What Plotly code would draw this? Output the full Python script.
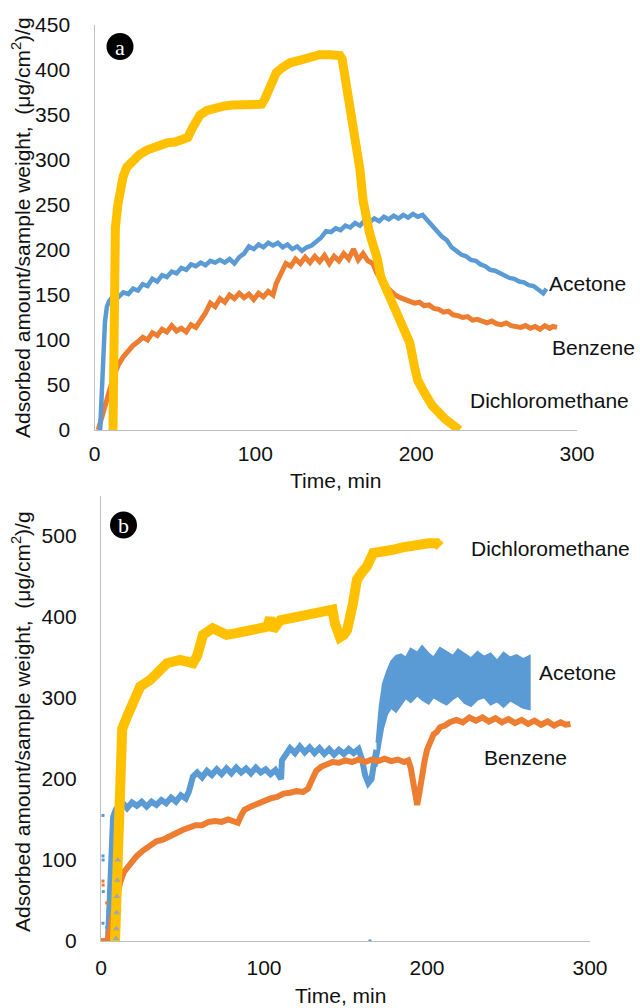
import plotly.graph_objects as go

W, H = 640, 1008

# ---------------- Panel a data ----------------
dcm_a_t = [11.5, 11.6, 11.8, 12.2, 13, 14.5, 16, 17.7, 20, 24, 28, 32.6, 38, 45, 50, 56, 58, 61, 65.6, 70, 76, 81, 86, 95, 104, 106, 109, 113, 117, 121.6, 128, 136, 140, 146, 152.6, 154, 157, 160, 163, 165, 167, 171, 176, 178, 183, 187, 193, 196, 199, 201, 205, 210, 218, 227]
dcm_a_v = [0, 60, 130, 190, 225, 250, 268, 281, 292, 300, 306, 311, 315, 319, 320, 322, 325, 336, 350, 355, 359, 360, 361, 362, 362, 368, 380, 397, 403, 408, 411, 415, 417, 417, 416, 412, 380, 345, 319, 290, 255, 219, 189, 170, 150, 135, 110, 97, 70, 55, 42, 27, 12, 0]

ace_a_t = [3.5, 4.5, 5.5, 6.5, 7.7, 9, 10.5, 12, 15, 18, 21, 24, 27, 30, 33, 36, 39, 42, 45, 48, 51, 54, 57, 60, 63, 66, 69, 72, 75, 78, 81, 84, 87, 90, 93, 96, 99, 102, 105, 108, 111, 114, 117, 120, 123, 126, 129, 132, 135, 138, 141, 144, 147, 150, 153, 156, 159, 162, 165, 168, 171, 174, 177, 180, 183, 186, 189, 192, 195, 198, 201, 204, 207, 210, 213, 216, 219, 222, 225, 228, 231, 234, 237, 240, 243, 246, 249, 252, 255, 258, 261, 264, 267, 270, 273, 276, 279, 281]
ace_a_v = [0, 30, 80, 120, 137, 143, 147, 150, 148, 153, 151, 157, 155, 162, 160, 168, 165, 172, 170, 176, 174, 180, 178, 184, 182, 186, 183, 188, 186, 189, 186, 190, 185, 192, 196, 204, 201, 206, 203, 208, 205, 208, 203, 206, 201, 204, 199, 203, 205, 210, 214, 221, 220, 224, 222, 227, 225, 230, 227, 233, 231, 235, 232, 237, 234, 238, 235, 239, 236, 240, 237, 239, 233, 227, 222, 215, 211, 203, 199, 195, 193, 189, 188, 184, 182, 178, 177, 174, 172, 169, 168, 165, 164, 161, 160, 156, 152, 157]

ben_a_t = [2.3, 5, 7.6, 10, 12.7, 15, 17.8, 21, 24, 27, 30, 33, 36, 39, 42, 45, 48, 51, 54, 57, 60, 63, 66, 69, 72, 75, 78, 81, 84, 87, 90, 93, 96, 99, 102, 105, 108, 111, 113, 116, 119, 122, 125, 128, 131, 134, 137, 140, 143, 146, 149, 152, 155, 158, 161, 164, 167, 170, 173, 175.6, 178, 181, 184, 187, 190, 193, 196, 199, 202, 205, 208, 211, 214, 217, 220, 223, 226, 229, 232, 235, 238, 241, 244, 247, 250, 253, 256, 259, 262, 265, 268, 271, 274, 277, 280, 283, 285, 287.6]
ben_a_v = [0, 18, 33, 48, 63, 73, 81, 88, 94, 98, 103, 100, 108, 105, 112, 109, 116, 110, 113, 109, 117, 114, 122, 130, 141, 137, 146, 142, 150, 146, 152, 147, 151, 145, 152, 148, 154, 150, 163, 175, 185, 182, 190, 185, 192, 186, 193, 187, 194, 185, 193, 188, 196, 190, 201, 189, 196, 188, 185, 174, 168, 160, 155, 150, 147, 145, 144, 141, 142, 138, 139, 135, 134, 131, 132, 128, 127, 125, 126, 122, 123, 121, 119, 121, 118, 117, 119, 116, 115, 114, 116, 113, 115, 112, 116, 113, 115, 114]

# ---------------- Panel b data ----------------
dcm_b_t = [8.6, 9.5, 10.5, 11.7, 13, 16, 20, 24, 30, 35, 40.5, 48.5, 56.4, 59, 62.6, 68.5, 73, 77, 83, 89.5, 96, 102, 103.7, 105.5, 110, 115, 120, 125, 130, 136, 142, 143.5, 146.6, 149, 151, 154.6, 157, 160, 163, 167, 172, 179, 185, 191, 196, 201, 206, 208]
dcm_b_v = [0, 80, 170, 240, 262, 277, 298, 314, 322, 333, 343, 347, 343, 352, 378, 386, 381, 378, 380, 382, 384, 388, 399, 384, 396, 398, 400, 402, 405, 406, 409, 392, 375, 378, 384, 417, 446, 455, 462, 479, 480, 483, 486, 489, 490, 491, 491, 487]

ace_b_t = [4.3, 5.5, 6.5, 7.4, 9, 11, 13.5, 16, 19, 22, 25, 28, 31, 34, 37, 40, 43, 46, 49, 52, 54, 55.5, 56.4, 59, 62, 65, 68, 71, 74, 77, 80, 83, 86, 89, 92, 95, 98, 101, 104, 107, 109.5, 110.5, 111, 113, 116, 119, 122, 125, 128, 131, 134, 137, 140, 143, 146, 149, 152, 155, 158, 160, 162, 164, 166, 167.5, 169]
ace_b_v = [0, 63, 110, 153, 162, 168, 170, 164, 171, 167, 172, 166, 172, 168, 174, 170, 177, 172, 180, 176, 185, 196, 203, 208, 202, 210, 205, 212, 206, 213, 207, 214, 208, 213, 207, 214, 208, 212, 206, 211, 204, 200, 223, 228, 238, 232, 240, 233, 239, 232, 238, 231, 237, 230, 236, 231, 237, 232, 237, 225, 205, 195, 200, 220, 236]

ace_b_band_t = [169, 171, 173, 175.5, 178, 181, 184, 187, 190, 194, 197, 201, 204, 208, 212, 216, 219, 223, 227, 231, 235, 239, 243, 247, 251, 255, 259, 263]
ace_b_band_hi = [245, 290, 318, 333, 345, 352, 354, 350, 361, 356, 364, 355, 350, 362, 357, 352, 360, 354, 349, 357, 351, 355, 346, 356, 350, 353, 348, 352]
ace_b_band_lo = [215, 240, 262, 280, 288, 283, 292, 300, 295, 303, 298, 293, 301, 296, 292, 299, 303, 294, 290, 298, 301, 292, 296, 289, 297, 293, 288, 286]

ben_b_t = [0, 2, 4, 5.5, 7.4, 9.5, 11.7, 14, 17.8, 22, 26, 30, 34, 38, 42, 46, 50, 54, 58, 62, 66, 70, 74, 78, 82, 84, 86, 88, 92, 96, 100, 104, 108, 112, 116, 120, 124, 127, 129, 132, 135, 138, 142, 146, 150, 154, 158, 162, 166, 170, 174, 178, 182, 186, 188.5, 190, 191.4, 193, 194, 195.5, 197, 198.5, 200, 202, 204, 206, 208, 211, 214, 218, 222, 226, 230, 234, 238, 242, 246, 250, 254, 258, 262, 266, 270, 274, 278, 282, 285, 288]
ben_b_v = [0, 0, 0, 15, 35, 55, 72, 85, 96, 105, 112, 117, 123, 125, 130, 133, 137, 140, 143, 143, 147, 148, 147, 150, 148, 146, 155, 162, 166, 170, 172, 176, 178, 182, 183, 185, 184, 188, 197, 210, 215, 218, 221, 220, 223, 221, 224, 221, 224, 222, 225, 222, 224, 221, 223, 214, 199, 178, 168, 185, 211, 222, 236, 245, 255, 258, 264, 266, 270, 273, 270, 276, 272, 276, 271, 275, 270, 274, 269, 273, 268, 272, 267, 271, 266, 270, 267, 268]

stray_ace_t = [1.2, 1.2, 1.3, 1.4, 1.2, 3.5, 165]
stray_ace_v = [155, 105, 100, 61, 22, 17, 0]
stray_ben_t = [1.2, 1.3, 3.5]
stray_ben_v = [74, 69, 47]
dcm_b_tri_t = [9.2, 9.4, 9.6, 9.8, 10.0, 10.3]
dcm_b_tri_v = [3, 15, 35, 55, 75, 100]

x_ticks = [0, 100, 200, 300]
ya_ticks = [0, 50, 100, 150, 200, 250, 300, 350, 400, 450]
yb_ticks = [0, 100, 200, 300, 400, 500]

YELLOW = "#FFC000"
BLUE = "#5B9BD5"
ORANGE = "#ED7D31"
FONT = "Liberation Sans, Arial, sans-serif"
TXT = "#111111"

fig = go.Figure()

def line(x, y, color, width, xa, ya):
    fig.add_trace(go.Scatter(x=x, y=y, mode="lines", line=dict(color=color, width=width),
                             xaxis=xa, yaxis=ya, showlegend=False, hoverinfo="skip"))

# panel a
line(ben_a_t, ben_a_v, ORANGE, 5, "x", "y")
line(ace_a_t, ace_a_v, BLUE, 4.5, "x", "y")
line(dcm_a_t, dcm_a_v, YELLOW, 9, "x", "y")

# panel b
fig.add_trace(go.Scatter(x=ace_b_band_t + ace_b_band_t[::-1], y=ace_b_band_hi + ace_b_band_lo[::-1],
                         mode="lines", fill="toself", fillcolor=BLUE, line=dict(color=BLUE, width=2),
                         xaxis="x2", yaxis="y2", showlegend=False, hoverinfo="skip"))
line(ace_b_t, ace_b_v, BLUE, 6, "x2", "y2")
line(ben_b_t, ben_b_v, ORANGE, 6, "x2", "y2")
line(dcm_b_t, dcm_b_v, YELLOW, 10, "x2", "y2")
fig.add_trace(go.Scatter(x=stray_ace_t, y=stray_ace_v, mode="markers", marker=dict(color=BLUE, size=3, symbol="square"),
                         xaxis="x2", yaxis="y2", showlegend=False, hoverinfo="skip"))
fig.add_trace(go.Scatter(x=stray_ben_t, y=stray_ben_v, mode="markers", marker=dict(color=ORANGE, size=3, symbol="square"),
                         xaxis="x2", yaxis="y2", showlegend=False, hoverinfo="skip"))
fig.add_trace(go.Scatter(x=dcm_b_tri_t, y=dcm_b_tri_v, mode="markers", marker=dict(color="#A5A5A5", size=6, symbol="triangle-up"),
                         xaxis="x2", yaxis="y2", showlegend=False, hoverinfo="skip"))

# domains (pixel-based, margin 0)
xa_dom = [94.5 / W, 577 / W]
ya_dom = [1 - 430 / H, 1 - 25 / H]
xb_dom = [101 / W, 590 / W]
yb_dom = [1 - 941 / H, 1 - 495.5 / H]

axis_common = dict(showgrid=False, zeroline=False, showline=True, linecolor="#BFBFBF", linewidth=1.3,
                   ticks="", automargin=False, tickfont=dict(family=FONT, size=21, color=TXT))

fig.update_layout(
    width=W, height=H, margin=dict(l=0, r=0, t=0, b=0, pad=0, autoexpand=False),
    paper_bgcolor="white", plot_bgcolor="white",
    xaxis=dict(domain=xa_dom, range=[0, 300], tickvals=x_ticks, anchor="y", ticklabelstandoff=5, **axis_common),
    yaxis=dict(domain=ya_dom, range=[0, 450], tickvals=ya_ticks, anchor="x", ticklabelstandoff=19, **axis_common),
    xaxis2=dict(domain=xb_dom, range=[0, 300], tickvals=x_ticks, anchor="y2", ticklabelstandoff=8, **axis_common),
    yaxis2=dict(domain=yb_dom, range=[0, 550], tickvals=yb_ticks, anchor="x2", ticklabelstandoff=19, **axis_common),
)

lab_font = dict(family=FONT, size=21, color=TXT)
ann = []
def A(**kw):
    d = dict(showarrow=False, xanchor="center", yanchor="middle", font=lab_font)
    d.update(kw)
    ann.append(d)

# series labels
A(x=281.4, y=163, xref="x", yref="y", text="Acetone", xanchor="left")
A(x=283.3, y=92, xref="x", yref="y", text="Benzene", xanchor="left")
A(x=232.3, y=33, xref="x", yref="y", text="Dichloromethane", xanchor="left")
A(x=225.5, y=485, xref="x2", yref="y2", text="Dichloromethane", xanchor="left")
A(x=267.5, y=332, xref="x2", yref="y2", text="Acetone", xanchor="left")
A(x=233.7, y=227, xref="x2", yref="y2", text="Benzene", xanchor="left")
# axis titles
ytitle = "Adsorbed amount/sample weight,  (μg/cm<sup>2</sup>)/g"
A(x=335 / W, y=1 - 480 / H, xref="paper", yref="paper", text="Time, min")
A(x=340 / W, y=1 - 995 / H, xref="paper", yref="paper", text="Time, min")
A(x=21 / W, y=1 - 228 / H, xref="paper", yref="paper", text=ytitle, textangle=-90)
A(x=21 / W, y=1 - 722 / H, xref="paper", yref="paper", text=ytitle, textangle=-90)

# panel letters
shapes = []
for (cx, cy, letter) in [(120, 46.5, "a"), (123.5, 525, "b")]:
    r = 13.5
    shapes.append(dict(type="circle", xref="paper", yref="paper",
                       x0=(cx - r) / W, x1=(cx + r) / W, y0=1 - (cy + r) / H, y1=1 - (cy - r) / H,
                       fillcolor="black", line=dict(color="black", width=0)))
    A(x=cx / W, y=1 - (cy + 0.5) / H, xref="paper", yref="paper", text=letter,
      font=dict(family="Liberation Serif, DejaVu Serif, serif", size=22, color="white"))

fig.update_layout(annotations=ann, shapes=shapes)
fig.write_html("out.html")
